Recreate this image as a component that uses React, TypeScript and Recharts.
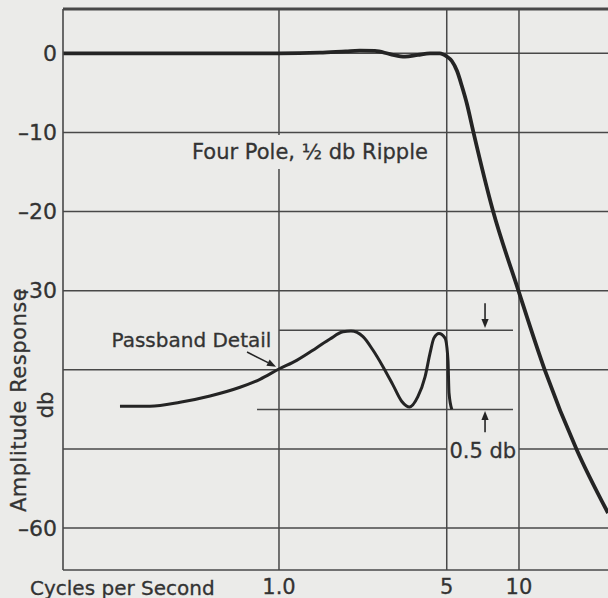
import React from 'react';
import { LineChart, Line, XAxis, YAxis, ReferenceLine, ReferenceDot } from 'recharts';

// ---- data ----
const mainFreq = [0.126, 0.3, 0.6, 1.0, 1.48, 1.9, 2.17, 2.51, 2.9, 3.35, 3.79, 4.26, 4.68, 5.0, 5.25, 5.52, 5.78, 6.07, 6.44, 7.79, 9.9, 12.8, 17.4, 23.5];
const mainDb = [0, 0, 0, 0, 0.08, 0.25, 0.33, 0.3, -0.1, -0.43, -0.2, 0, 0, -0.4, -0.97, -2.24, -4.13, -6.4, -9.8, -19.9, -29.8, -40.0, -50.1, -58.1];

const detailFreq = [0.2175, 0.29, 0.387, 0.516, 0.688, 0.833, 1.0, 1.185, 1.436, 1.631, 1.848, 1.995, 2.239, 2.462, 2.712, 2.983, 3.25, 3.5, 3.79, 4.06, 4.26, 4.42, 4.64, 4.92, 5.06, 5.11, 5.25];
const detailDb = [-44.6, -44.6, -44.1, -43.3, -42.2, -41.2, -39.9, -38.8, -37.2, -36.1, -35.2, -35.1, -35.8, -37.5, -39.6, -41.9, -44.0, -44.7, -43.4, -40.9, -37.9, -36.0, -35.4, -36.0, -38.8, -42.9, -45.0];

const xTicks = [1, 5, 10];
const xTickLabels = ['1.0', '5', '10'];
const yTicks = [0, -10, -20, -30, -60];
const hGrid = [0, -10, -20, -30, -40, -60];

// passband-detail reference levels and span
const detailTop = -35;
const detailBottom = -45;
const detailTopStart = 1.0;
const detailBottomStart = 0.81;
const detailEnd = 9.44;
const arrowFreq = 7.22;

const X_MIN = 0.1259;
const X_MAX = 23.49;
const Y_MIN = -65.3;
const Y_MAX = 5.6;

const mainData = mainFreq.map((f, i) => ({ f, db: mainDb[i] }));
const detailData = detailFreq.map((f, i) => ({ f, db: detailDb[i] }));

const BG = '#ebebe9';
const GRID = '#484848';
const INK = '#242424';
const TXT = '#333333';
const FONT = '"DejaVu Sans", sans-serif';

const arrowShape = (p: any) => {
  const { x1, y1, x2, y2 } = p;
  const ang = Math.atan2(y2 - y1, x2 - x1);
  const L = 9;
  const W = 3.6;
  const bx = x2 - L * Math.cos(ang);
  const by = y2 - L * Math.sin(ang);
  const px = -Math.sin(ang) * W;
  const py = Math.cos(ang) * W;
  return (
    <g>
      <line x1={x1} y1={y1} x2={bx} y2={by} stroke={INK} strokeWidth={1.6} />
      <polygon points={`${x2},${y2} ${bx + px},${by + py} ${bx - px},${by - py}`} fill={INK} />
    </g>
  );
};

const textShape = (label: string, size: number, boxW: number, boxH: number) => (p: any) => {
  const { cx, cy } = p;
  return (
    <g>
      {boxW > 0 && <rect x={cx - boxW / 2} y={cy - boxH / 2} width={boxW} height={boxH} fill={BG} />}
      <text x={cx} y={cy} textAnchor="middle" dominantBaseline="central" fontFamily={FONT} fontSize={size} fill={TXT} stroke={TXT} strokeWidth={0.3}>
        {label}
      </text>
    </g>
  );
};

const yLabel = (props: any) => {
  const vb = props.viewBox || { x: 0, y: 9, width: 63, height: 561 };
  const ax = vb.x + 19;
  const ay = vb.y + 391;
  const dx = vb.x + 46;
  const dy = vb.y + 396;
  return (
    <g>
      <text x={ax} y={ay} transform={`rotate(-90, ${ax}, ${ay})`} textAnchor="middle" dominantBaseline="central" fontFamily={FONT} fontSize={21} letterSpacing={0.5} fill={TXT} stroke={TXT} strokeWidth={0.3}>
        Amplitude Response
      </text>
      <text x={dx} y={dy} transform={`rotate(-90, ${dx}, ${dy})`} textAnchor="middle" dominantBaseline="central" fontFamily={FONT} fontSize={21} fill={TXT} stroke={TXT} strokeWidth={0.3}>
        db
      </text>
    </g>
  );
};

const xLabel = (props: any) => {
  const vb = props.viewBox || { x: 63, y: 570, width: 545, height: 28 };
  return (
    <text x={vb.x - 33} y={vb.y + 17.5} dominantBaseline="central" fontFamily={FONT} fontSize={20} fill={TXT} stroke={TXT} strokeWidth={0.3}>
      Cycles per Second
    </text>
  );
};

export default function App() {
  return (
    <div style={{ position: 'absolute', left: 0, top: 0, width: 608, height: 598, background: BG, overflow: 'hidden' }}>
      <LineChart width={608} height={598} margin={{ top: 9, right: 0, bottom: 0, left: 0 }}>
        <XAxis
          dataKey="f"
          type="number"
          scale="log"
          domain={[X_MIN, X_MAX]}
          allowDataOverflow
          ticks={xTicks}
          tickFormatter={(v: number) => xTickLabels[xTicks.indexOf(v)] ?? String(v)}
          tickLine={false}
          tickSize={6}
          tickMargin={3}
          height={28}
          axisLine={{ stroke: GRID, strokeWidth: 1.6 }}
          tick={{ fill: TXT, fontSize: 21, fontFamily: FONT, stroke: TXT, strokeWidth: 0.3 }}
          label={{ content: xLabel }}
        />
        <YAxis
          type="number"
          domain={[Y_MIN, Y_MAX]}
          allowDataOverflow
          ticks={yTicks}
          tickFormatter={(v: number) => (v < 0 ? '\u2013' + Math.abs(v) : String(v))}
          tickLine={false}
          tickSize={6}
          tickMargin={0}
          width={63}
          axisLine={{ stroke: GRID, strokeWidth: 1.6 }}
          tick={{ fill: TXT, fontSize: 22, fontFamily: FONT, stroke: TXT, strokeWidth: 0.3 }}
          label={{ content: yLabel }}
        />
        {hGrid.map((v) => (
          <ReferenceLine key={'h' + v} y={v} stroke={GRID} strokeWidth={1.5} />
        ))}
        <ReferenceLine segment={[{ x: X_MIN, y: -50 }, { x: 5, y: -50 }]} stroke={GRID} strokeWidth={1.5} />
        <ReferenceLine segment={[{ x: 10, y: -50 }, { x: X_MAX, y: -50 }]} stroke={GRID} strokeWidth={1.5} />
        {xTicks.map((v) => (
          <ReferenceLine key={'v' + v} x={v} stroke={GRID} strokeWidth={1.5} />
        ))}
        <ReferenceLine y={Y_MAX} stroke={GRID} strokeWidth={2.8} />

        <ReferenceLine segment={[{ x: detailTopStart, y: detailTop }, { x: detailEnd, y: detailTop }]} stroke={GRID} strokeWidth={1.5} />
        <ReferenceLine segment={[{ x: detailBottomStart, y: detailBottom }, { x: detailEnd, y: detailBottom }]} stroke={GRID} strokeWidth={1.5} />
        <ReferenceLine segment={[{ x: arrowFreq, y: -31.6 }, { x: arrowFreq, y: -34.7 }]} shape={arrowShape} />
        <ReferenceLine segment={[{ x: arrowFreq, y: -47.9 }, { x: arrowFreq, y: -45.2 }]} shape={arrowShape} />
        <ReferenceLine segment={[{ x: 0.736, y: -37.75 }, { x: 0.972, y: -39.6 }]} shape={arrowShape} />

        <ReferenceDot x={1.346} y={-12.47} r={0} shape={textShape('Four Pole, \u00BD db Ripple', 21, 252, 34)} />
        <ReferenceDot x={0.4317} y={-36.24} r={0} shape={textShape('Passband Detail', 20, 0, 0)} />
        <ReferenceDot x={7.07} y={-50.3} r={0} shape={textShape('0.5 db', 21, 0, 0)} />

        <Line data={detailData} dataKey="db" type="monotone" stroke={INK} strokeWidth={3} dot={false} isAnimationActive={false} />
        <Line data={mainData} dataKey="db" type="monotone" stroke={INK} strokeWidth={3.8} dot={false} isAnimationActive={false} />
      </LineChart>
    </div>
  );
}
